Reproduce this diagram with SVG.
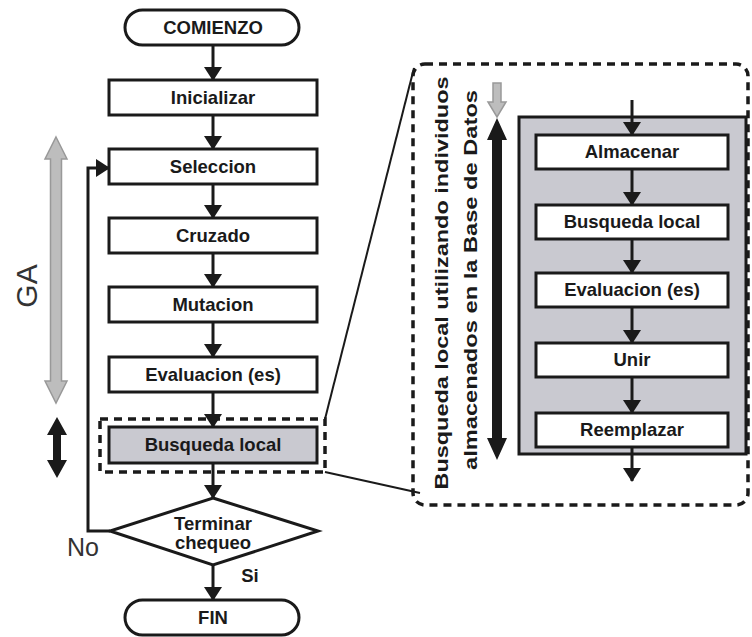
<svg xmlns="http://www.w3.org/2000/svg" width="752" height="637" viewBox="0 0 752 637">
<defs>
<marker id="ah" markerUnits="userSpaceOnUse" markerWidth="16" markerHeight="18" refX="13" refY="9" orient="auto">
<path d="M0,0 L14,9 L0,18 Z" fill="#1a1a1a"/>
</marker>
<style>
.box{fill:#fff;stroke:#1a1a1a;stroke-width:3}
.gbox{fill:#c9c9d0;stroke:#1a1a1a;stroke-width:3}
.lbl{font-family:"Liberation Sans",Arial,sans-serif;font-weight:bold;font-size:18.5px;fill:#1a1a1a;text-anchor:middle}
.con{fill:none;stroke:#1a1a1a;stroke-width:3;marker-end:url(#ah)}
.dash{fill:none;stroke:#1a1a1a;stroke-width:3.5;stroke-dasharray:8 6}
.thin{fill:none;stroke:#1a1a1a;stroke-width:2}
.big{font-family:"Liberation Sans",Arial,sans-serif;fill:#333}
</style>
</defs>
<rect width="752" height="637" fill="#fff"/>

<g id="connectors">
<line class="con" x1="213" y1="45" x2="213" y2="80"/>
<line class="con" x1="213" y1="115" x2="213" y2="149"/>
<line class="con" x1="213" y1="184" x2="213" y2="218"/>
<line class="con" x1="213" y1="253" x2="213" y2="287"/>
<line class="con" x1="213" y1="322" x2="213" y2="357"/>
<line class="con" x1="213" y1="392" x2="213" y2="427"/>
<line class="con" x1="213" y1="463" x2="213" y2="498"/>
<line class="con" x1="213" y1="565" x2="213" y2="600"/>
<polyline class="con" points="110,531 88,531 88,168 109,168"/>
<line class="thin" x1="325" y1="419" x2="414" y2="68"/>
<line class="thin" x1="325" y1="472" x2="420" y2="493"/>
</g>

<g id="ga-arrow">
<path d="M56,137 L67,159 L61.5,159 L61.5,381 L67,381 L56,403 L45,381 L50.5,381 L50.5,159 L45,159 Z" fill="#bdbdbd" stroke="#999" stroke-width="1.5"/>
<text class="big" font-size="30" transform="translate(37,286) rotate(-90)" text-anchor="middle">GA</text>
</g>

<g id="ls-arrow">
<path d="M57,417 L67,435 L61,435 L61,460 L67,460 L57,478 L47,460 L53,460 L53,435 L47,435 Z" fill="#1a1a1a"/>
</g>

<g id="comienzo">
<rect class="box" x="125" y="10" width="174" height="35" rx="17.5"/>
<text class="lbl" x="213" y="34">COMIENZO</text>
</g>
<g id="inicializar">
<rect class="box" x="109" y="80" width="208" height="35"/>
<text class="lbl" x="213" y="104">Inicializar</text>
</g>
<g id="seleccion">
<rect class="box" x="109" y="149" width="208" height="35"/>
<text class="lbl" x="213" y="173">Seleccion</text>
</g>
<g id="cruzado">
<rect class="box" x="109" y="218" width="208" height="35"/>
<text class="lbl" x="213" y="242">Cruzado</text>
</g>
<g id="mutacion">
<rect class="box" x="109" y="287" width="208" height="35"/>
<text class="lbl" x="213" y="311">Mutacion</text>
</g>
<g id="evaluacion">
<rect class="box" x="109" y="357" width="208" height="35"/>
<text class="lbl" x="213" y="381">Evaluacion (es)</text>
</g>
<g id="busqueda">
<rect class="dash" x="100" y="419" width="225" height="53"/>
<rect class="gbox" x="109" y="427" width="208" height="36"/>
<text class="lbl" x="213" y="451">Busqueda local</text>
</g>
<g id="terminar">
<polygon class="box" points="213,498 318,531 213,565 110,531"/>
<text class="lbl" x="213" y="530">Terminar</text>
<text class="lbl" x="213" y="549">chequeo</text>
<text class="big" font-size="25" x="67" y="556">No</text>
<text class="lbl" x="250" y="582">Si</text>
</g>
<g id="fin">
<rect class="box" x="125" y="600" width="174" height="35" rx="17.5"/>
<text class="lbl" x="213" y="624">FIN</text>
</g>

<g id="detalle">
<rect class="dash" x="413" y="64" width="335" height="441" rx="12"/>
<text class="lbl" font-size="23" textLength="413" lengthAdjust="spacingAndGlyphs" transform="translate(448,283) rotate(-90)">Busqueda local utilizando individuos</text>
<text class="lbl" font-size="23" textLength="380" lengthAdjust="spacingAndGlyphs" transform="translate(477,280) rotate(-90)">almacenados en la Base de Datos</text>
<path d="M493,83 L501,83 L501,102 L506,102 L497,117 L488,102 L493,102 Z" fill="#bdbdbd" stroke="#999" stroke-width="1.5"/>
<path d="M497,118 L507,140 L502,140 L502,438 L507,438 L497,460 L487,438 L492,438 L492,140 L487,140 Z" fill="#1a1a1a"/>
<rect class="gbox" x="519" y="117" width="227" height="337" stroke-width="2.5"/>
</g>

<g id="detalle-connectors">
<line class="con" x1="632" y1="100" x2="632" y2="135"/>
<line class="con" x1="632" y1="170" x2="632" y2="205"/>
<line class="con" x1="632" y1="239" x2="632" y2="273"/>
<line class="con" x1="632" y1="307" x2="632" y2="343"/>
<line class="con" x1="632" y1="377" x2="632" y2="413"/>
<line class="con" x1="632" y1="447" x2="632" y2="481"/>
</g>

<g id="almacenar">
<rect class="box" x="536" y="135" width="192" height="34"/>
<text class="lbl" x="632" y="158">Almacenar</text>
</g>
<g id="busqueda2">
<rect class="box" x="536" y="205" width="192" height="34"/>
<text class="lbl" x="632" y="228">Busqueda local</text>
</g>
<g id="evaluacion2">
<rect class="box" x="536" y="273" width="192" height="34"/>
<text class="lbl" x="632" y="296">Evaluacion (es)</text>
</g>
<g id="unir">
<rect class="box" x="536" y="343" width="192" height="34"/>
<text class="lbl" x="632" y="366">Unir</text>
</g>
<g id="reemplazar">
<rect class="box" x="536" y="413" width="192" height="34"/>
<text class="lbl" x="632" y="436">Reemplazar</text>
</g>
</svg>
